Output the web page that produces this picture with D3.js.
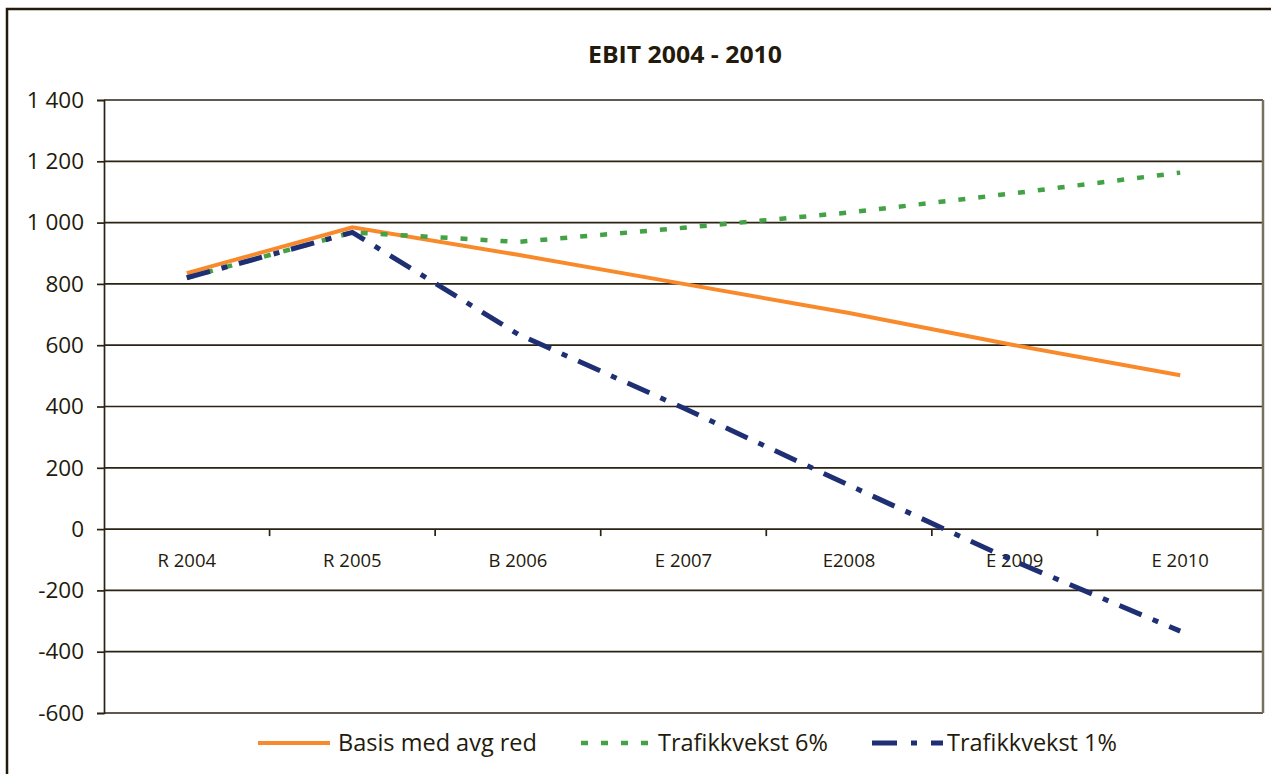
<!DOCTYPE html>
<html><head><meta charset="utf-8">
<script src="https://cdn.jsdelivr.net/npm/d3@7"></script>
<style>body{margin:0;background:#fff}svg{display:block}</style>
</head><body>
<svg id="c" width="1271" height="774"></svg>
<script>
const categories = ["R 2004","R 2005","B 2006","E 2007","E2008","E 2009","E 2010"];
const basis = [835, 985, 895, 800, 705, 600, 502];
const vekst6 = [820, 968, 937, 983, 1033, 1096, 1163];
const vekst1 = [820, 968, 636, 395, 143, -105, -333];
const yTicks = [-600,-400,-200,0,200,400,600,800,1000,1200,1400];
const seriesNames = ["Basis med avg red","Trafikkvekst 6%","Trafikkvekst 1%"];

const svg = d3.select("#c");
const ink = "#2a2314";
const font = "'Open Sans', 'Noto Sans', sans-serif";

// outer frame
svg.append("path").attr("d","M7,776 L7,9 L1273,9").attr("fill","none").attr("stroke","#231a0c").attr("stroke-width",2.5);

const L=104, R=1263, T=100, B=713;
const x = d3.scaleBand().domain(categories).range([L,R]);
const y = d3.scaleLinear().domain([-600,1400]).range([B,T]);
const cx = c => x(c) + x.bandwidth()/2;

// title
svg.append("text").attr("x",685).attr("y",63).attr("text-anchor","middle")
  .attr("font-family",font).attr("font-weight","bold").attr("font-size",24)
  .attr("textLength",194).attr("lengthAdjust","spacingAndGlyphs")
  .attr("fill","#231a0c").text("EBIT 2004 - 2010");

// gridlines
svg.append("g").selectAll("line").data(yTicks).join("line")
  .attr("x1",L).attr("x2",R).attr("y1",d=>y(d)).attr("y2",d=>y(d))
  .attr("stroke",ink).attr("stroke-width",1.7);

// y axis
const yAxis = d3.axisLeft(y).tickValues(yTicks).tickSize(7).tickPadding(13)
  .tickFormat(d => d3.format(",")(d).replace(/,/g," ").replace("−","-"));
const gy = svg.append("g").attr("transform",`translate(${L},0)`).call(yAxis);
gy.select(".domain").attr("stroke",ink).attr("stroke-width",1.7);
gy.selectAll(".tick line").attr("stroke",ink).attr("stroke-width",1.7);
gy.selectAll("text").attr("font-family",font).attr("font-size",22.5).attr("fill","#231a0c");

// right border
svg.append("line").attr("x1",R).attr("x2",R).attr("y1",T).attr("y2",B)
  .attr("stroke","#77715f").attr("stroke-width",2.5);

// x axis at zero with boundary ticks
const gx = svg.append("g");
const bounds = categories.slice(1).map(c => x(c));
gx.selectAll("line").data(bounds).join("line")
  .attr("x1",d=>d).attr("x2",d=>d).attr("y1",y(0)).attr("y2",y(0)+7)
  .attr("stroke",ink).attr("stroke-width",1.7);
gx.selectAll("text").data(categories).join("text")
  .attr("x",d=>cx(d)).attr("y",y(0)+38).attr("text-anchor","middle")
  .attr("font-family",font).attr("font-size",18.5).attr("fill","#231a0c").text(d=>d);

// lines
const line = d3.line().x((d,i)=>cx(categories[i])).y(d=>y(d));
const styles = [
  {data: basis, color:"#f98a2c", width:4, dash:null},
  {data: vekst6, color:"#43a146", width:4.5, dash:"7,13"},
  {data: vekst1, color:"#1f2f74", width:5, dash:"24,12,6,12"}
];
styles.forEach(s => {
  svg.append("path").datum(s.data).attr("d",line).attr("fill","none")
    .attr("stroke",s.color).attr("stroke-width",s.width)
    .attr("stroke-dasharray",s.dash);
});

// legend
const leg = [
  {x1:258, x2:330, tx:338},
  {x1:581, x2:650, tx:658},
  {x1:872, x2:943, tx:947}
];
const legDash = [null, "7,13", "25,14,6,14"];
leg.forEach((p,i) => {
  svg.append("line").attr("x1",p.x1).attr("x2",p.x2).attr("y1",743).attr("y2",743)
    .attr("stroke",styles[i].color).attr("stroke-width",styles[i].width)
    .attr("stroke-dasharray",legDash[i]);
  svg.append("text").attr("x",p.tx).attr("y",751).attr("font-family",font)
    .attr("font-size",23.5).attr("fill","#231a0c").text(seriesNames[i]);
});
</script>
</body></html>
